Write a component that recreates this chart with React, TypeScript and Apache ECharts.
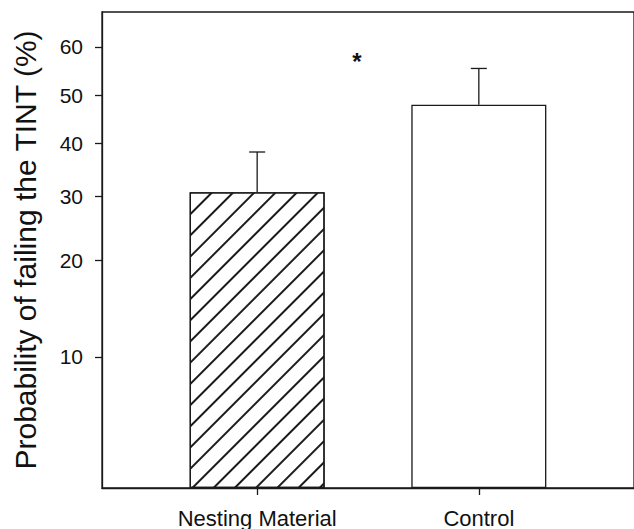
import React, { useEffect, useRef } from "react";
import * as echarts from "echarts";

// ---- data (percent) ----
const categories = ["Nesting Material", "Control"];
const categoryPos = [1, 2];
const means = [30.7, 48.0];
const upperErr = [38.3, 55.6];
const yTicks = [10, 20, 30, 40, 50, 60];
const yMinPct = 3.56;
const yMaxPct = 66.8;

// logit (probability) scale shifted so axis bottom = 0
const logit = (pct: number) => {
  const p = pct / 100;
  return Math.log(p / (1 - p));
};
const T = (pct: number) => logit(pct) - logit(yMinPct);
const invT = (v: number) => {
  const l = v + logit(yMinPct);
  return (100 * Math.exp(l)) / (1 + Math.exp(l));
};

const FONT = "'Liberation Sans', Arial, Helvetica, sans-serif";
const INK = "#1a1a1a";

export default function App() {
  const ref = useRef<HTMLDivElement>(null);
  useEffect(() => {
    if (!ref.current) return;
    const chart = echarts.init(ref.current, null, { renderer: "svg" });
    const barData = categoryPos.map((x, i) => ({
      value: [x, T(means[i])],
      itemStyle:
        i === 0
          ? {
              color: "#fff",
              borderColor: INK,
              borderWidth: 1.3,
              decal: {
                symbol: "rect",
                symbolSize: 1,
                dashArrayX: [1, 0],
                dashArrayY: [1.2, 12.9],
                rotation: -Math.PI / 4,
                color: INK,
                backgroundColor: "#fff",
              },
            }
          : { color: "#fff", borderColor: INK, borderWidth: 1.3 },
    }));
    const errData = categoryPos.map((x, i) => [x, T(means[i]), T(upperErr[i])]);
    chart.setOption({
      animation: false,
      backgroundColor: "#fff",
      grid: {
        left: 102,
        top: 12,
        bottom: 41,
        right: -5.6,
        show: true,
        borderColor: INK,
        borderWidth: 1.3,
        containLabel: false,
      },
      xAxis: {
        type: "value",
        min: 0.3,
        max: 2.7,
        splitLine: { show: false },
        axisLine: { show: true, lineStyle: { color: INK, width: 1.3 } },
        axisTick: {
          show: true,
          inside: false,
          length: 7,
          customValues: categoryPos,
          lineStyle: { color: INK, width: 1.3 },
        },
        axisLabel: {
          customValues: categoryPos,
          formatter: (v: number) => categories[categoryPos.indexOf(Math.round(v))] ?? "",
          color: "#111",
          fontFamily: FONT,
          fontSize: 22,
          margin: 19,
        },
      },
      yAxis: {
        type: "value",
        min: 0,
        max: T(yMaxPct),
        name: "Probability of failing the TINT (%)",
        nameLocation: "middle",
        nameGap: 62,
        nameTextStyle: { color: "#111", fontFamily: FONT, fontSize: 30 },
        splitLine: { show: false },
        axisLine: { show: true, lineStyle: { color: INK, width: 1.3 } },
        axisTick: {
          show: true,
          inside: false,
          length: 7,
          customValues: yTicks.map(T),
          lineStyle: { color: INK, width: 1.3 },
        },
        axisLabel: {
          customValues: yTicks.map(T),
          formatter: (v: number) => String(Math.round(invT(v))),
          color: "#111",
          fontFamily: FONT,
          fontSize: 21,
          margin: 19,
        },
      },
      series: [
        {
          type: "bar",
          barWidth: 135,
          data: barData,
          z: 2,
        },
        {
          type: "custom",
          z: 3,
          data: errData,
          encode: { x: 0, y: [1, 2] },
          renderItem: (params: any, api: any) => {
            const x = api.value(0);
            const p0 = api.coord([x, api.value(1)]);
            const p1 = api.coord([x, api.value(2)]);
            const style = { stroke: INK, lineWidth: 1.3 };
            return {
              type: "group",
              children: [
                { type: "line", shape: { x1: p0[0], y1: p0[1], x2: p1[0], y2: p1[1] }, style },
                { type: "line", shape: { x1: p1[0] - 8, y1: p1[1], x2: p1[0] + 8, y2: p1[1] }, style },
              ],
            };
          },
        },
      ],
      graphic: [
        {
          type: "text",
          x: 357,
          y: 61,
          style: {
            text: "*",
            font: `bold 24px ${FONT}`,
            fill: "#111",
            textAlign: "center",
            textVerticalAlign: "middle",
          },
        },
      ],
    });
    return () => chart.dispose();
  }, []);
  return (
    <div
      ref={ref}
      style={{ position: "fixed", left: 0, top: 0, width: 634, height: 529 }}
    />
  );
}
